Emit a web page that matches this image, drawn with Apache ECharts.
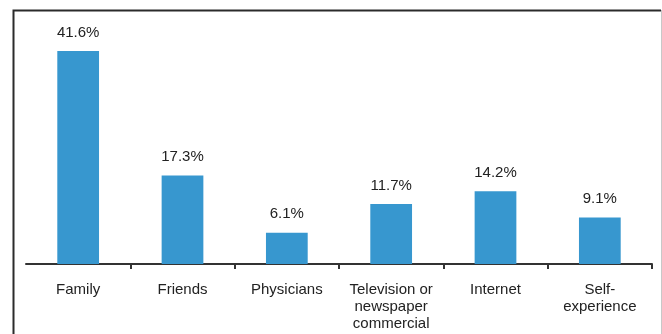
<!DOCTYPE html>
<html>
<head>
<meta charset="utf-8">
<script src="https://cdn.jsdelivr.net/npm/echarts@6/dist/echarts.min.js"></script>
<style>
  html, body { margin: 0; padding: 0; background: #fff; }
  #chart { width: 662px; height: 334px; }
</style>
</head>
<body>
<div id="chart"></div>
<script>
// Sources of information (percent of respondents)
const categories = [
  'Family',
  'Friends',
  'Physicians',
  'Television or\nnewspaper\ncommercial',
  'Internet',
  'Self-\nexperience'
];
const shares = [41.6, 17.3, 6.1, 11.7, 14.2, 9.1];

const chart = echarts.init(document.getElementById('chart'), null, { renderer: 'canvas' });

chart.setOption({
  animation: false,
  backgroundColor: '#ffffff',
  grid: { left: 26, right: 10, top: 8, height: 256 },
  xAxis: {
    type: 'category',
    data: categories,
    axisLine: { lineStyle: { color: '#333333', width: 2 } },
    axisTick: {
      show: true,
      length: 5,
      lineStyle: { color: '#333333', width: 2 },
      interval: function (i) { return i !== 0; }
    },
    axisLabel: {
      color: '#222222',
      fontFamily: 'Liberation Sans, Arial, sans-serif',
      fontSize: 15,
      lineHeight: 17,
      margin: 17,
      interval: 0
    }
  },
  yAxis: {
    type: 'value',
    min: 0,
    max: 50,
    show: false
  },
  series: [{
    type: 'bar',
    data: shares,
    barWidth: '40%',
    itemStyle: { color: '#3797cf' },
    label: {
      show: true,
      position: 'top',
      distance: 11,
      color: '#222222',
      fontFamily: 'Liberation Sans, Arial, sans-serif',
      fontSize: 15,
      formatter: function (p) { return p.value.toFixed(1) + '%'; }
    }
  }],
  graphic: [
    {
      type: 'polyline',
      shape: { points: [[13.5, 340], [13.5, 10.5], [661, 10.5]] },
      style: { stroke: '#2b2b2b', lineWidth: 2, fill: null },
      silent: true
    },
    {
      type: 'line',
      shape: { x1: 661.5, y1: 10, x2: 661.5, y2: 334 },
      style: { stroke: '#c8c8c8', lineWidth: 1 },
      silent: true
    }
  ]
});
</script>
</body>
</html>
